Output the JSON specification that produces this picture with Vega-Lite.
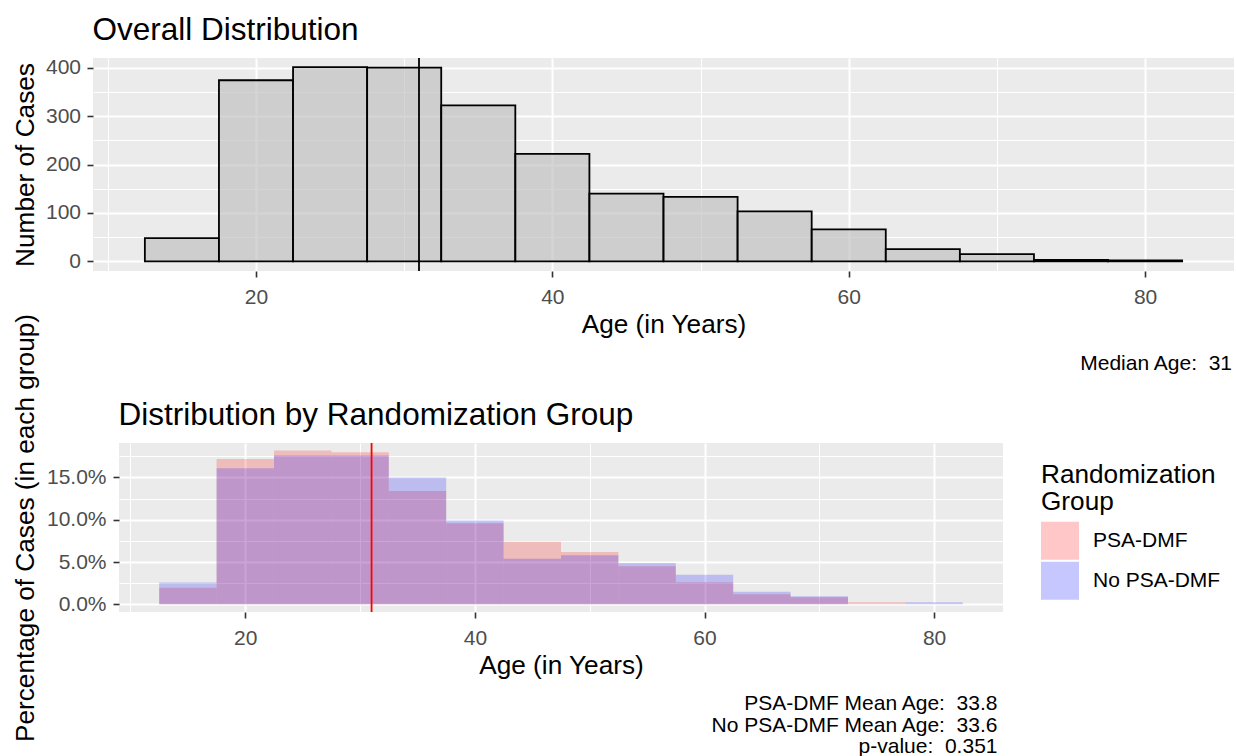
{
  "$schema": "https://vega.github.io/schema/vega-lite/v6.json",
  "autosize": {"type": "pad"},
  "padding": {"left": 11, "top": 14, "right": 3, "bottom": 2},
  "background": "white",
  "datasets": {
    "overall": [
      {"bin_start": 12.5, "bin_end": 17.5, "count": 48},
      {"bin_start": 17.5, "bin_end": 22.5, "count": 374},
      {"bin_start": 22.5, "bin_end": 27.5, "count": 401},
      {"bin_start": 27.5, "bin_end": 32.5, "count": 400},
      {"bin_start": 32.5, "bin_end": 37.5, "count": 322},
      {"bin_start": 37.5, "bin_end": 42.5, "count": 222},
      {"bin_start": 42.5, "bin_end": 47.5, "count": 140},
      {"bin_start": 47.5, "bin_end": 52.5, "count": 133},
      {"bin_start": 52.5, "bin_end": 57.5, "count": 103},
      {"bin_start": 57.5, "bin_end": 62.5, "count": 66},
      {"bin_start": 62.5, "bin_end": 67.5, "count": 25},
      {"bin_start": 67.5, "bin_end": 72.5, "count": 15},
      {"bin_start": 72.5, "bin_end": 77.5, "count": 3},
      {"bin_start": 77.5, "bin_end": 82.5, "count": 2}
    ],
    "by_group": [
      {"group": "PSA-DMF", "bin_start": 12.5, "bin_end": 17.5, "pct": 0.0197},
      {"group": "PSA-DMF", "bin_start": 17.5, "bin_end": 22.5, "pct": 0.172},
      {"group": "PSA-DMF", "bin_start": 22.5, "bin_end": 27.5, "pct": 0.182},
      {"group": "PSA-DMF", "bin_start": 27.5, "bin_end": 32.5, "pct": 0.180},
      {"group": "PSA-DMF", "bin_start": 32.5, "bin_end": 37.5, "pct": 0.134},
      {"group": "PSA-DMF", "bin_start": 37.5, "bin_end": 42.5, "pct": 0.096},
      {"group": "PSA-DMF", "bin_start": 42.5, "bin_end": 47.5, "pct": 0.074},
      {"group": "PSA-DMF", "bin_start": 47.5, "bin_end": 52.5, "pct": 0.062},
      {"group": "PSA-DMF", "bin_start": 52.5, "bin_end": 57.5, "pct": 0.045},
      {"group": "PSA-DMF", "bin_start": 57.5, "bin_end": 62.5, "pct": 0.026},
      {"group": "PSA-DMF", "bin_start": 62.5, "bin_end": 67.5, "pct": 0.012},
      {"group": "PSA-DMF", "bin_start": 67.5, "bin_end": 72.5, "pct": 0.0083},
      {"group": "PSA-DMF", "bin_start": 72.5, "bin_end": 77.5, "pct": 0.0024},
      {"group": "No PSA-DMF", "bin_start": 12.5, "bin_end": 17.5, "pct": 0.0257},
      {"group": "No PSA-DMF", "bin_start": 17.5, "bin_end": 22.5, "pct": 0.161},
      {"group": "No PSA-DMF", "bin_start": 22.5, "bin_end": 27.5, "pct": 0.176},
      {"group": "No PSA-DMF", "bin_start": 27.5, "bin_end": 32.5, "pct": 0.176},
      {"group": "No PSA-DMF", "bin_start": 32.5, "bin_end": 37.5, "pct": 0.150},
      {"group": "No PSA-DMF", "bin_start": 37.5, "bin_end": 42.5, "pct": 0.099},
      {"group": "No PSA-DMF", "bin_start": 42.5, "bin_end": 47.5, "pct": 0.054},
      {"group": "No PSA-DMF", "bin_start": 47.5, "bin_end": 52.5, "pct": 0.058},
      {"group": "No PSA-DMF", "bin_start": 52.5, "bin_end": 57.5, "pct": 0.049},
      {"group": "No PSA-DMF", "bin_start": 57.5, "bin_end": 62.5, "pct": 0.035},
      {"group": "No PSA-DMF", "bin_start": 62.5, "bin_end": 67.5, "pct": 0.015},
      {"group": "No PSA-DMF", "bin_start": 67.5, "bin_end": 72.5, "pct": 0.0095},
      {"group": "No PSA-DMF", "bin_start": 77.5, "bin_end": 82.5, "pct": 0.0024}
    ],
    "median_overall": [{"median_age": 31}],
    "median_group": [{"median_age": 31}]
  },
  "config": {
    "font": "Liberation Sans",
    "view": {"stroke": null},
    "axis": {
      "labelFont": "Liberation Sans",
      "labelFontSize": 21,
      "labelColor": "#4D4D4D",
      "titleFont": "Liberation Sans",
      "titleFontSize": 26.2,
      "titleFontWeight": "normal",
      "titleColor": "#000000",
      "domain": false,
      "tickColor": "#333333",
      "tickWidth": 1.6,
      "tickSize": 6,
      "gridColor": "#FFFFFF",
      "gridOpacity": 1,
      "labelFlush": false,
      "labelOverlap": false
    },
    "legend": {
      "titleFont": "Liberation Sans",
      "titleFontSize": 26.2,
      "titleFontWeight": "normal",
      "titleColor": "#000000",
      "titleLineHeight": 27,
      "titleBaseline": "top",
      "titlePadding": 6.5,
      "labelFont": "Liberation Sans",
      "labelFontSize": 21,
      "labelColor": "#000000",
      "labelOffset": 14,
      "symbolType": "square",
      "symbolSize": 1444,
      "symbolStrokeWidth": 0,
      "symbolOpacity": 0.22,
      "rowPadding": 2,
      "padding": 19
    }
  },
  "bounds": "flush",
  "spacing": 172,
  "vconcat": [
    {
      "width": 1141,
      "height": 213,
      "view": {"fill": "#EBEBEB", "stroke": null},
      "resolve": {"axis": {"x": "independent"}},
      "layer": [
        {
          "data": {"name": "overall"},
          "mark": {"type": "rect", "fill": "#BEBEBE", "fillOpacity": 0.65, "stroke": "#000000", "strokeWidth": 1.8},
          "encoding": {
            "x": {
              "field": "bin_start",
              "type": "quantitative",
              "scale": {"domain": [9, 86], "nice": false, "zero": false},
              "axis": {
                "orient": "bottom",
                "title": "Age (in Years)",
                "values": [10, 20, 30, 40, 50, 60, 70, 80],
                "labelExpr": "datum.value % 20 === 0 ? datum.label : ''",
                "grid": true,
                "gridWidth": {"condition": {"test": "datum.value % 20 === 0", "value": 2}, "value": 1},
                "tickOpacity": {"condition": {"test": "datum.value % 20 === 0", "value": 1}, "value": 0},
                "labelPadding": 9,
                "titleBaseline": "alphabetic",
                "titleY": 61.6
              }
            },
            "x2": {"field": "bin_end"},
            "y": {
              "field": "count",
              "type": "quantitative",
              "scale": {"domain": [-20, 420], "nice": false, "zero": false},
              "axis": {
                "title": "Number of Cases",
                "values": [0, 50, 100, 150, 200, 250, 300, 350, 400],
                "labelExpr": "datum.value % 100 === 0 ? datum.label : ''",
                "grid": true,
                "gridWidth": {"condition": {"test": "datum.value % 100 === 0", "value": 2}, "value": 1},
                "tickOpacity": {"condition": {"test": "datum.value % 100 === 0", "value": 1}, "value": 0},
                "labelPadding": 6.5,
                "titleAngle": 270,
                "titleBaseline": "alphabetic",
                "titleAlign": "center",
                "titleX": -60,
                "titleY": 106.5
              }
            },
            "y2": {"datum": 0}
          }
        },
        {
          "data": {"name": "overall"},
          "mark": {"type": "rect", "opacity": 0},
          "encoding": {
            "x": {
              "field": "bin_start",
              "type": "quantitative",
              "scale": {"domain": [9, 86], "nice": false, "zero": false},
              "axis": {
                "orient": "top",
                "title": "Overall Distribution",
                "labels": false,
                "ticks": false,
                "grid": false,
                "domain": false,
                "titleFontSize": 31.5,
                "titleColor": "#000000",
                "titleAnchor": "start",
                "titleAlign": "left",
                "titleBaseline": "alphabetic",
                "titleX": -1,
                "titleY": -18.5
              }
            },
            "x2": {"field": "bin_end"},
            "y": {
              "field": "count",
              "type": "quantitative",
              "scale": {"domain": [-20, 420], "nice": false, "zero": false},
              "axis": {
                "title": "Number of Cases",
                "values": [0, 50, 100, 150, 200, 250, 300, 350, 400],
                "labelExpr": "datum.value % 100 === 0 ? datum.label : ''",
                "grid": true,
                "gridWidth": {"condition": {"test": "datum.value % 100 === 0", "value": 2}, "value": 1},
                "tickOpacity": {"condition": {"test": "datum.value % 100 === 0", "value": 1}, "value": 0},
                "labelPadding": 6.5,
                "titleAngle": 270,
                "titleBaseline": "alphabetic",
                "titleAlign": "center",
                "titleX": -60,
                "titleY": 106.5
              }
            },
            "y2": {"datum": 0}
          }
        },
        {
          "data": {"name": "median_overall"},
          "mark": {"type": "rule", "color": "#000000", "strokeWidth": 1.8},
          "encoding": {
            "x": {
              "field": "median_age",
              "type": "quantitative",
              "scale": {"domain": [9, 86], "nice": false, "zero": false},
              "axis": {
                "orient": "bottom",
                "title": "Median Age: \u00a031",
                "labels": false,
                "ticks": false,
                "grid": false,
                "domain": false,
                "titleFontSize": 21,
                "titleColor": "#000000",
                "titleAnchor": "end",
                "titleAlign": "right",
                "titleBaseline": "alphabetic",
                "titleX": 1138.5,
                "titleY": 98
              }
            }
          }
        }
      ]
    },
    {
      "bounds": "flush",
      "spacing": 25,
      "hconcat": [
        {
          "width": 1,
          "height": 169,
          "view": {"fill": null, "stroke": null},
          "data": {"values": [{"spacer": 0}]},
          "mark": {"type": "point", "opacity": 0},
          "encoding": {}
        },
        {
          "width": 884,
          "height": 169,
          "view": {"fill": "#EBEBEB", "stroke": null},
          "resolve": {"axis": {"x": "independent"}},
          "layer": [
            {
              "data": {"name": "by_group"},
              "transform": [{"filter": "datum.group === 'PSA-DMF'"}],
              "mark": {"type": "rect", "fillOpacity": 0.2, "strokeWidth": 0},
              "encoding": {
                "x": {
                  "field": "bin_start",
                  "type": "quantitative",
                  "scale": {"domain": [9, 86], "nice": false, "zero": false},
                  "axis": {
                    "orient": "bottom",
                    "title": "Age (in Years)",
                    "values": [10, 20, 30, 40, 50, 60, 70, 80],
                    "labelExpr": "datum.value % 20 === 0 ? datum.label : ''",
                    "grid": true,
                    "gridWidth": {"condition": {"test": "datum.value % 20 === 0", "value": 2}, "value": 1},
                    "tickOpacity": {"condition": {"test": "datum.value % 20 === 0", "value": 1}, "value": 0},
                    "labelPadding": 9,
                    "titleBaseline": "alphabetic",
                    "titleY": 61.6
                  }
                },
                "x2": {"field": "bin_end"},
                "y": {
                  "field": "pct",
                  "type": "quantitative",
                  "scale": {"domain": [-0.0091, 0.1908], "nice": false, "zero": false},
                  "axis": {
                    "title": "Percentage of Cases (in each group)",
                    "values": [0, 0.025, 0.05, 0.075, 0.1, 0.125, 0.15, 0.175],
                    "format": ".1%",
                    "labelExpr": "round(datum.value * 1000) % 50 === 0 ? datum.label : ''",
                    "grid": true,
                    "gridWidth": {"condition": {"test": "round(datum.value * 1000) % 50 === 0", "value": 2}, "value": 1},
                    "tickOpacity": {"condition": {"test": "round(datum.value * 1000) % 50 === 0", "value": 1}, "value": 0},
                    "labelPadding": 7,
                    "titleAngle": 270,
                    "titleBaseline": "alphabetic",
                    "titleAlign": "center",
                    "titleX": -86,
                    "titleY": 84.5
                  }
                },
                "y2": {"datum": 0},
                "color": {
                  "field": "group",
                  "type": "nominal",
                  "scale": {"domain": ["PSA-DMF", "No PSA-DMF"], "range": ["#FF0000", "#0000FF"]},
                  "legend": {"title": ["Randomization", "Group"], "orient": "none", "legendX": 929, "legendY": 385}
                }
              }
            },
            {
              "data": {"name": "by_group"},
              "transform": [{"filter": "datum.group === 'No PSA-DMF'"}],
              "mark": {"type": "rect", "fillOpacity": 0.2, "strokeWidth": 0},
              "encoding": {
                "x": {
                  "field": "bin_start",
                  "type": "quantitative",
                  "scale": {"domain": [9, 86], "nice": false, "zero": false},
                  "axis": {
                    "orient": "top",
                    "title": "Distribution by Randomization Group",
                    "labels": false,
                    "ticks": false,
                    "grid": false,
                    "domain": false,
                    "titleFontSize": 31.5,
                    "titleColor": "#000000",
                    "titleAnchor": "start",
                    "titleAlign": "left",
                    "titleBaseline": "alphabetic",
                    "titleX": -1,
                    "titleY": -19
                  }
                },
                "x2": {"field": "bin_end"},
                "y": {
                  "field": "pct",
                  "type": "quantitative",
                  "scale": {"domain": [-0.0091, 0.1908], "nice": false, "zero": false},
                  "axis": {
                    "title": "Percentage of Cases (in each group)",
                    "values": [0, 0.025, 0.05, 0.075, 0.1, 0.125, 0.15, 0.175],
                    "format": ".1%",
                    "labelExpr": "round(datum.value * 1000) % 50 === 0 ? datum.label : ''",
                    "grid": true,
                    "gridWidth": {"condition": {"test": "round(datum.value * 1000) % 50 === 0", "value": 2}, "value": 1},
                    "tickOpacity": {"condition": {"test": "round(datum.value * 1000) % 50 === 0", "value": 1}, "value": 0},
                    "labelPadding": 7,
                    "titleAngle": 270,
                    "titleBaseline": "alphabetic",
                    "titleAlign": "center",
                    "titleX": -86,
                    "titleY": 84.5
                  }
                },
                "y2": {"datum": 0},
                "color": {
                  "field": "group",
                  "type": "nominal",
                  "scale": {"domain": ["PSA-DMF", "No PSA-DMF"], "range": ["#FF0000", "#0000FF"]},
                  "legend": {"title": ["Randomization", "Group"], "orient": "none", "legendX": 929, "legendY": 385}
                }
              }
            },
            {
              "data": {"name": "median_group"},
              "mark": {"type": "rule", "color": "#FF0000", "strokeWidth": 1.8},
              "encoding": {
                "x": {
                  "field": "median_age",
                  "type": "quantitative",
                  "scale": {"domain": [9, 86], "nice": false, "zero": false},
                  "axis": {
                    "orient": "bottom",
                    "title": ["PSA-DMF Mean Age: \u00a033.8", "No PSA-DMF Mean Age: \u00a033.6", "p-value: \u00a00.351"],
                    "labels": false,
                    "ticks": false,
                    "grid": false,
                    "domain": false,
                    "titleFontSize": 21,
                    "titleColor": "#000000",
                    "titleLineHeight": 21.5,
                    "titleAnchor": "end",
                    "titleAlign": "right",
                    "titleBaseline": "alphabetic",
                    "titleX": 878,
                    "titleY": 97.5
                  }
                }
              }
            }
          ]
        }
      ]
    }
  ]
}
